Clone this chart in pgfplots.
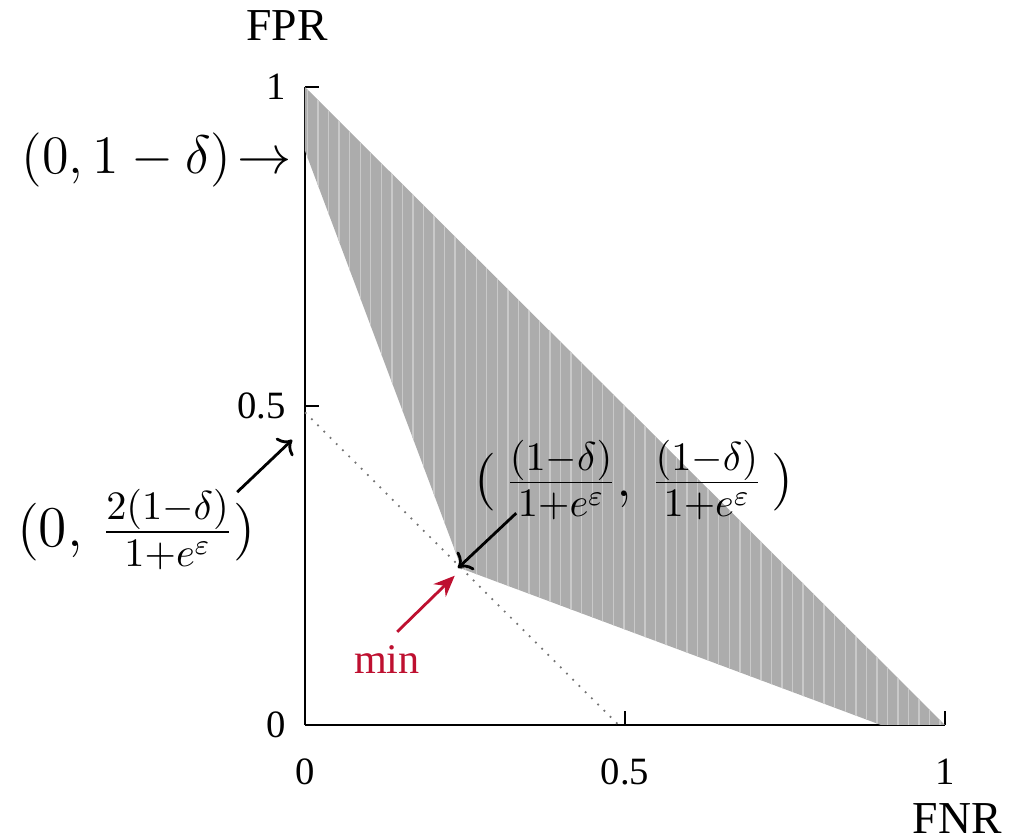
\RequirePackage{fix-cm}
\documentclass[border=0pt]{standalone}
\usepackage[no-math]{fontspec}
\setmainfont{Liberation Serif}
\usepackage{pgfplots}
\pgfplotsset{compat=1.18}
\usetikzlibrary{patterns,arrows.meta}
\definecolor{minred}{RGB}{190,16,48}
\definecolor{regiongray}{RGB}{172,172,172}

\begin{document}
\begin{tikzpicture}
\begin{axis}[
  width=64mm, height=63.8mm, scale only axis,
  xmin=0, xmax=1, ymin=0, ymax=1,
  axis lines=left,
  axis line style={-, line width=0.6pt},
  xtick={0,0.5,1}, ytick={0,0.5,1},
  xticklabels={0,0.5,1}, yticklabels={0,0.5,1},
  tick style={black, line width=0.5pt},
  tick align=inside,
  major tick length=4pt,
  tick label style={font=\fontsize{11}{13}\selectfont},
  xticklabel style={yshift=-6pt},
  yticklabel style={xshift=-2pt},
  clip=false,
]
% feasible region
\addplot[fill=regiongray, draw=none] coordinates {
  (0,1) (1,0) (0.9,0) (0.245,0.245) (0,0.9)
} -- cycle;
\addplot[draw=none, pattern=vertical lines, pattern color=white!35!regiongray] coordinates {
  (0,1) (1,0) (0.9,0) (0.245,0.245) (0,0.9)
} -- cycle;
% iso line through the minimum
\addplot[dotted, black!55, line width=0.5pt] coordinates {(0,0.49) (0.49,0)};

\node[font=\fontsize{13}{15}\selectfont] at (axis cs:-0.028,1.096) {FPR};
\node[font=\fontsize{13}{15}\selectfont] at (axis cs:1.019,-0.146) {FNR};

\node[anchor=east, inner sep=0pt, font=\fontsize{15.4}{19}\selectfont]
  at (axis cs:-0.02,0.886) {$(0,1-\delta)\!\rightarrow$};
\node[font=\fontsize{16.4}{20}\selectfont] at (axis cs:-0.264,0.306)
  {$(0,\, \frac{2(1-\delta)}{1+e^\varepsilon})$};
\draw[->, line width=0.8pt] (axis cs:-0.106,0.365) -- (axis cs:-0.02,0.447);

\node[font=\fontsize{16.4}{20}\selectfont] at (axis cs:0.514,0.384)
  {$(\,\frac{(1-\delta)}{1+e^\varepsilon},\, \frac{(1-\delta)}{1+e^\varepsilon}\,)$};
\draw[->, line width=0.8pt] (axis cs:0.33,0.332) -- (axis cs:0.239,0.246);

\node[text=minred, font=\fontsize{12}{14}\selectfont] at (axis cs:0.128,0.102) {min};
\draw[-{Stealth[length=6pt,width=5pt]}, minred, line width=0.8pt]
  (axis cs:0.144,0.146) -- (axis cs:0.234,0.234);

\coordinate (O) at (axis cs:0,0);
\end{axis}
\pgfresetboundingbox
\path[use as bounding box] ([shift={(-30.5mm,-11.4mm)}]O) rectangle ([shift={(72.7mm,72.5mm)}]O);
\end{tikzpicture}
\end{document}
